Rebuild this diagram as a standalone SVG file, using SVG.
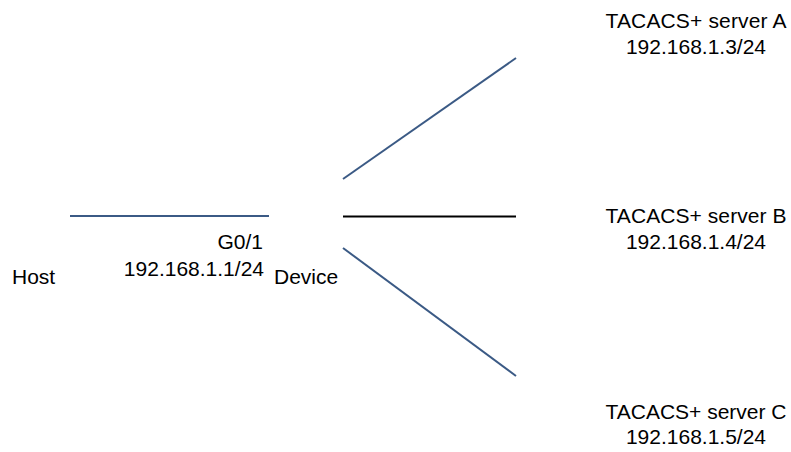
<svg xmlns="http://www.w3.org/2000/svg" width="791" height="452" viewBox="0 0 791 452">
  <style>
    text { font-family: "Liberation Sans", Arial, sans-serif; font-size: 21px; fill: #000; }
    .mid { text-anchor: middle; }
    .end { text-anchor: end; }
    .link { stroke: #3b5a85; stroke-width: 2; fill: none; }
    .link-k { stroke: #000; stroke-width: 2; fill: none; }
  </style>
  <g id="connectors">
    <line class="link" x1="70" y1="216" x2="269" y2="216"/>
    <line class="link" x1="343" y1="179" x2="516" y2="58"/>
    <line class="link-k" x1="343" y1="216.5" x2="516" y2="216.5"/>
    <line class="link" x1="343" y1="248" x2="516" y2="376"/>
  </g>
  <g id="host">
    <text x="12" y="284">Host</text>
  </g>
  <g id="device">
    <text x="274" y="284">Device</text>
    <text class="end" x="263" y="249">G0/1</text>
    <text class="end" x="264" y="276">192.168.1.1/24</text>
  </g>
  <g id="server-a">
    <text class="mid" x="696" y="27.5" textLength="181" lengthAdjust="spacing">TACACS+ server A</text>
    <text class="mid" x="696" y="54">192.168.1.3/24</text>
  </g>
  <g id="server-b">
    <text class="mid" x="696" y="223" textLength="181" lengthAdjust="spacing">TACACS+ server B</text>
    <text class="mid" x="696" y="249">192.168.1.4/24</text>
  </g>
  <g id="server-c">
    <text class="mid" x="696" y="419" textLength="181" lengthAdjust="spacing">TACACS+ server C</text>
    <text class="mid" x="696" y="444">192.168.1.5/24</text>
  </g>
</svg>
